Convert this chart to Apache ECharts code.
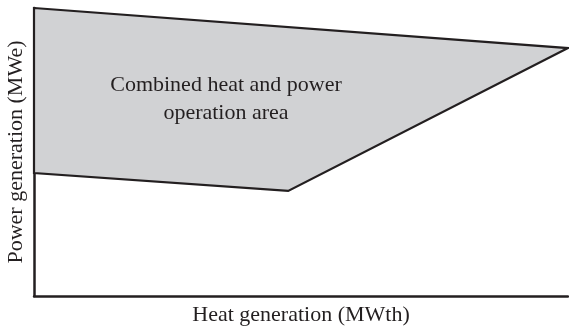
<!DOCTYPE html>
<html>
<head>
<meta charset="utf-8">
<script src="https://cdn.jsdelivr.net/npm/echarts@6/dist/echarts.min.js"></script>
<style>html,body{margin:0;padding:0;background:#fff}#chart{width:569px;height:326px}</style>
</head>
<body>
<div id="chart"></div>
<script>
// Operating region vertices: [heat, power] in relative units (0-100)
const regionHeat = [0, 100, 47.6, 0];
const regionPower = [100, 86.1, 36.5, 42.7];
const regionLabel = 'Combined heat and power\noperation area';
const xAxisName = 'Heat generation (MWth)';
const yAxisName = 'Power generation (MWe)';

const vertices = regionHeat.map((h, i) => [h, regionPower[i]]);
const chart = echarts.init(document.getElementById('chart'), null, { renderer: 'canvas' });
const serif = '"Liberation Serif", "DejaVu Serif", serif';
const axisCommon = {
  type: 'value', min: 0, max: 100,
  nameLocation: 'middle',
  nameTextStyle: { fontFamily: serif, fontSize: 22, color: '#231f20' },
  axisLine: { show: true, onZero: false, lineStyle: { color: '#231f20', width: 2.5 } },
  axisTick: { show: false }, axisLabel: { show: false }, splitLine: { show: false }
};
chart.setOption({
  animation: false,
  grid: { left: 34, right: 1, top: 8, bottom: 30, outerBoundsMode: 'none' },
  xAxis: Object.assign({}, axisCommon, { name: xAxisName, nameGap: 8 }),
  yAxis: Object.assign({}, axisCommon, { name: yAxisName, nameGap: 7 }),
  series: [{
    type: 'custom',
    data: [0],
    renderItem: function (params, api) {
      const pts = vertices.map(v => api.coord(v));
      return {
        type: 'group',
        children: [
          { type: 'polygon', shape: { points: pts }, style: { fill: '#d1d2d4', stroke: '#231f20', lineWidth: 2.2, lineJoin: 'miter' } },
          { type: 'text', style: { text: regionLabel, x: 226, y: 99, align: 'center', verticalAlign: 'middle', font: '22px ' + serif, fill: '#231f20', lineHeight: 28 } }
        ]
      };
    },
    silent: true
  }]
});
</script>
</body>
</html>
